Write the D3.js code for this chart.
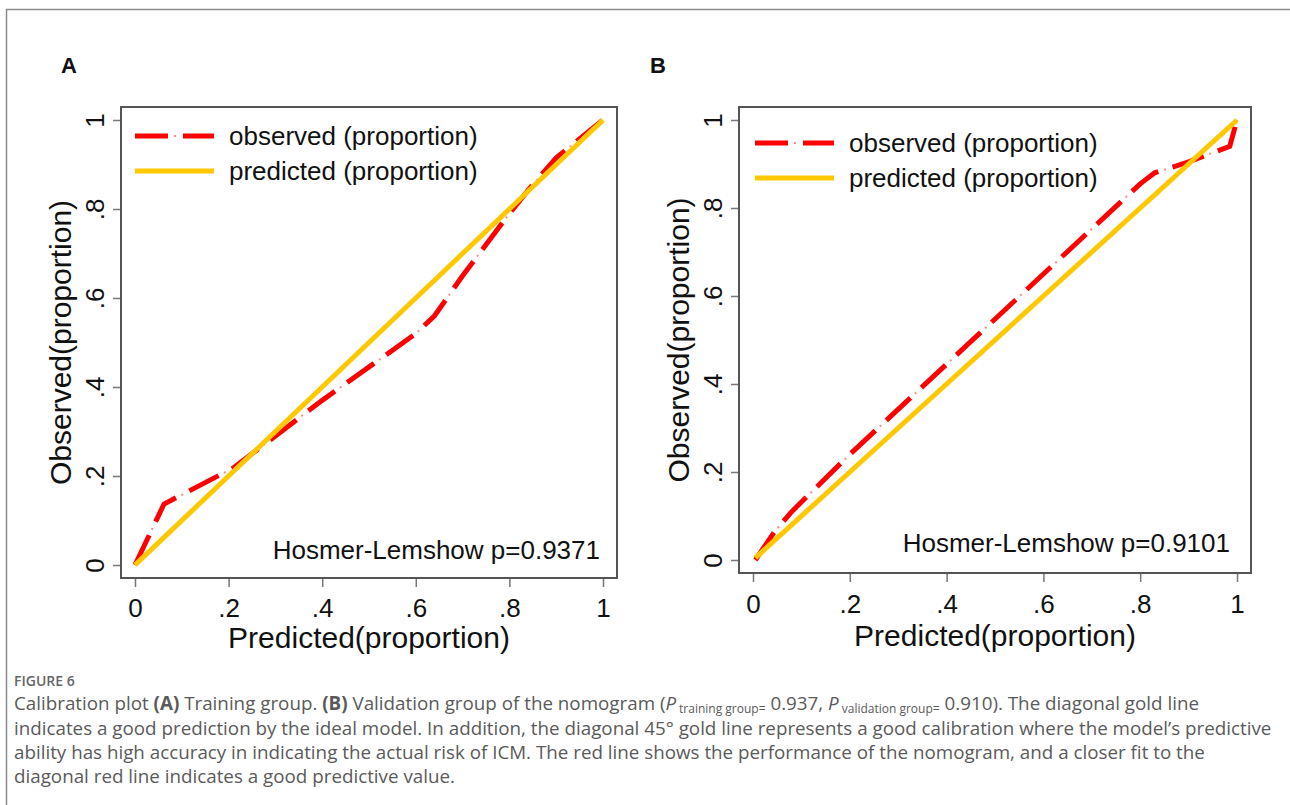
<!DOCTYPE html>
<html>
<head>
<meta charset="utf-8">
<script src="https://cdn.jsdelivr.net/npm/d3@7"></script>
<style>
  body { margin: 0; background: #fff; }
  .plot text { font-family: "Liberation Sans", Arial, sans-serif; fill: #111; }
  .caption text { font-family: "Open Sans", sans-serif; fill: #5a5a5a; }
</style>
</head>
<body>
<div class="figure"></div>
<script>
// ticks shared by both panels
const tickValues = [0, 0.2, 0.4, 0.6, 0.8, 1];
const tickLabels = ["0", ".2", ".4", ".6", ".8", "1"];
const seriesNames = ["observed (proportion)", "predicted (proportion)"];

// (A) training group: predicted vs observed proportion
const trainPredicted = [0, 0.062, 0.21, 0.4, 0.6, 0.64, 0.7, 0.8, 0.85, 0.9, 1];
const trainObserved  = [0, 0.137, 0.218, 0.37, 0.52, 0.56, 0.65, 0.79, 0.855, 0.915, 1];

// (B) validation group
const validPredicted = [0.005, 0.045, 0.08, 0.2, 0.4, 0.6, 0.8, 0.83, 0.9, 0.985, 1];
const validObserved  = [0, 0.065, 0.11, 0.24, 0.445, 0.65, 0.855, 0.88, 0.905, 0.94, 1];

const panelLabels = ["A", "B"];
const hlLabels = ["Hosmer-Lemshow p=0.9371", "Hosmer-Lemshow p=0.9101"];

var cfg = {
  width: 1290,
  height: 805,
  red: "#ff0000",
  gold: "#ffc800",
  frame: "#555",
};

// pixel layout of each panel
var panels = [
  { left: 135, right: 603, bottom: 565, top: 120, frame: { l: 121, r: 617, t: 107, b: 578 },
    labelX: 61, yTitleX: 71, xTitleY: 648, tickLabelY: 617, legendY: 136, legendX: 135, hlY: 559, hlX: 600,
    px: trainPredicted, py: trainObserved },
  { left: 753, right: 1237, bottom: 560, top: 120, frame: { l: 739, r: 1251, t: 107, b: 573 },
    labelX: 650, yTitleX: 689, xTitleY: 646, tickLabelY: 613, legendY: 143, legendX: 755, hlY: 552, hlX: 1230,
    px: validPredicted, py: validObserved },
];

function drawObserved(g, pathData) {
  // long dash with a thin pale dot in between, like the Stata dash-dot pattern
  g.append("path")
    .attr("d", pathData)
    .attr("fill", "none")
    .attr("stroke", cfg.red)
    .attr("stroke-width", 5)
    .attr("stroke-dasharray", "33 15");
  g.append("path")
    .attr("d", pathData)
    .attr("fill", "none")
    .attr("stroke", "#ff8a8a")
    .attr("stroke-width", 2)
    .attr("stroke-dasharray", "0 39 2 7");
}

function drawPanel(svg, p, i) {
  var x = d3.scaleLinear().domain([0, 1]).range([p.left, p.right]);
  var y = d3.scaleLinear().domain([0, 1]).range([p.bottom, p.top]);
  var g = svg.append("g").attr("class", "plot");

  // panel letter
  g.append("text")
    .attr("x", p.labelX).attr("y", 73)
    .style("font-size", "22px").style("font-weight", "bold")
    .text(panelLabels[i]);

  // x axis
  var xAxis = g.append("g")
    .attr("transform", `translate(0,${p.frame.b})`)
    .call(d3.axisBottom(x).tickValues(tickValues).tickFormat((d, k) => tickLabels[k]).tickSize(9));
  xAxis.select(".domain").remove();
  xAxis.selectAll("line").attr("stroke", "#777").attr("stroke-width", 1.5);
  xAxis.selectAll("text")
    .attr("y", p.tickLabelY - p.frame.b).attr("dy", 0)
    .style("font-size", "26px");

  // y axis, labels turned like Stata does
  var yAxis = g.append("g")
    .attr("transform", `translate(${p.frame.l},0)`)
    .call(d3.axisLeft(y).tickValues(tickValues).tickFormat((d, k) => tickLabels[k]).tickSize(8));
  yAxis.select(".domain").remove();
  yAxis.selectAll("line").attr("stroke", "#777").attr("stroke-width", 1.5);
  yAxis.selectAll("text")
    .attr("x", 0).attr("y", 0).attr("dy", 0)
    .attr("text-anchor", "middle")
    .attr("transform", "translate(-17,0) rotate(-90)")
    .style("font-size", "26px");

  // frame
  g.append("rect")
    .attr("x", p.frame.l).attr("y", p.frame.t)
    .attr("width", p.frame.r - p.frame.l).attr("height", p.frame.b - p.frame.t)
    .attr("fill", "none").attr("stroke", cfg.frame).attr("stroke-width", 2);

  // axis titles
  g.append("text")
    .attr("transform", `translate(${p.yTitleX},${(p.top + p.bottom) / 2}) rotate(-90)`)
    .attr("text-anchor", "middle")
    .style("font-size", "30px")
    .text("Observed(proportion)");
  g.append("text")
    .attr("x", (p.left + p.right) / 2).attr("y", p.xTitleY)
    .attr("text-anchor", "middle")
    .style("font-size", "30px")
    .text("Predicted(proportion)");

  // lines
  var pts = p.px.map((d, k) => [d, p.py[k]]);
  var line = d3.line().x(d => x(d[0])).y(d => y(d[1]));
  drawObserved(g, line(pts));
  g.append("path")
    .attr("d", line(p.px.map(d => [d, d])))
    .attr("fill", "none")
    .attr("stroke", cfg.gold)
    .attr("stroke-width", 5);

  // legend
  var lg = g.append("g").attr("transform", `translate(${p.legendX},${p.legendY})`);
  drawObserved(lg, "M0,0H79");
  lg.append("path").attr("d", "M0,35H79").attr("stroke", cfg.gold).attr("stroke-width", 5);
  lg.selectAll("text.leg")
    .data(seriesNames)
    .enter().append("text")
    .attr("class", "leg")
    .attr("x", 94).attr("y", (d, k) => k * 35 + 9)
    .style("font-size", "26px")
    .text(d => d);

  // Hosmer-Lemshow note
  g.append("text")
    .attr("x", p.hlX).attr("y", p.hlY)
    .attr("text-anchor", "end")
    .style("font-size", "26px")
    .text(hlLabels[i]);
}

function drawCaption(svg) {
  var g = svg.append("g").attr("class", "caption");
  g.append("text")
    .attr("x", 14).attr("y", 686)
    .style("font-size", "14px").style("font-weight", "600")
    .style("fill", "#666")
    .text("FIGURE 6");

  var fs = "18.8px";
  var t1 = g.append("text").attr("x", 14).attr("y", 710).style("font-size", fs);
  t1.append("tspan").text("Calibration plot ");
  t1.append("tspan").style("font-weight", "bold").text("(A)");
  t1.append("tspan").text(" Training group. ");
  t1.append("tspan").style("font-weight", "bold").text("(B)");
  t1.append("tspan").text(" Validation group of the nomogram (");
  t1.append("tspan").style("font-style", "italic").text("P");
  t1.append("tspan").attr("dx", 3).attr("dy", 2.5).style("font-size", "12px").text("training group=");
  t1.append("tspan").attr("dy", -2.5).text(" 0.937, ");
  t1.append("tspan").style("font-style", "italic").text("P");
  t1.append("tspan").attr("dx", 3).attr("dy", 2.5).style("font-size", "12px").text("validation group=");
  t1.append("tspan").attr("dy", -2.5).text(" 0.910). The diagonal gold line");

  var rest = [
    "indicates a good prediction by the ideal model. In addition, the diagonal 45° gold line represents a good calibration where the model’s predictive",
    "ability has high accuracy in indicating the actual risk of ICM. The red line shows the performance of the nomogram, and a closer fit to the",
    "diagonal red line indicates a good predictive value.",
  ];
  g.selectAll("text.cap")
    .data(rest)
    .enter().append("text")
    .attr("class", "cap")
    .attr("x", 14).attr("y", (d, k) => 735 + k * 24)
    .style("font-size", fs)
    .text(d => d);
}

function createViz() {
  var svg = d3.select(".figure").append("svg")
    .attr("width", cfg.width)
    .attr("height", cfg.height);

  // outer card border (top and left edges visible)
  svg.append("path")
    .attr("d", `M6.5,${cfg.height}V9.5H${cfg.width}`)
    .attr("fill", "none").attr("stroke", "#8a8a8a").attr("stroke-width", 1.5);

  panels.forEach((p, i) => drawPanel(svg, p, i));
  drawCaption(svg);
}

createViz();
</script>
</body>
</html>
